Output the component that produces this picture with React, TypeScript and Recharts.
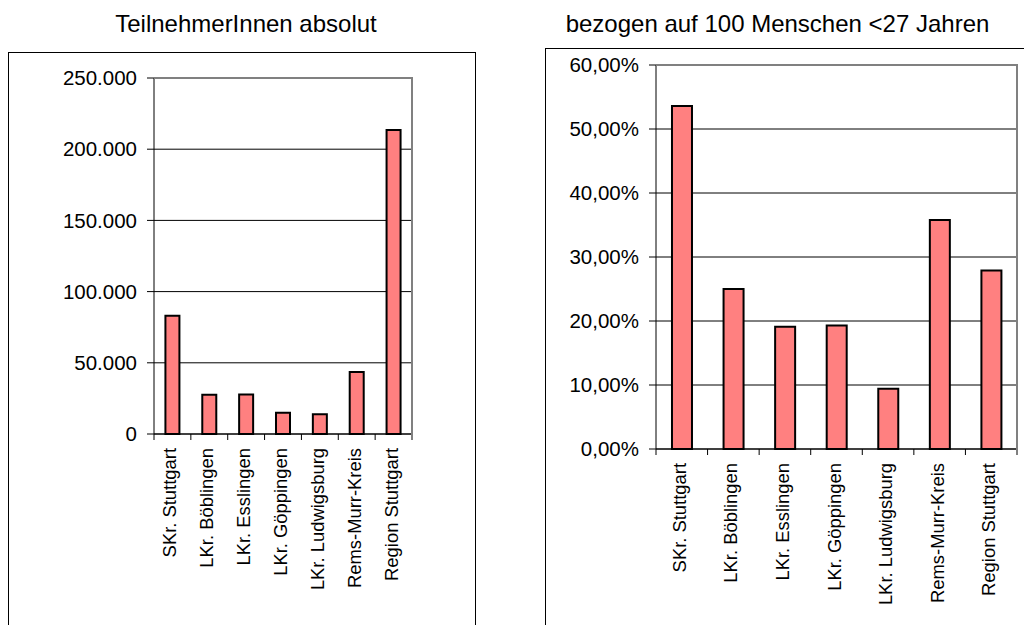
import { BarChart, Bar, XAxis, YAxis, CartesianGrid } from 'recharts';

const categories = [
  'SKr. Stuttgart',
  'LKr. Böblingen',
  'LKr. Esslingen',
  'LKr. Göppingen',
  'LKr. Ludwigsburg',
  'Rems-Murr-Kreis',
  'Region Stuttgart',
];
const participants = [83000, 27600, 27800, 14900, 13800, 43500, 213500];
const perHundredYoung = [53.6, 25.0, 19.1, 19.3, 9.4, 35.8, 27.9];
const participantTicks = [0, 50000, 100000, 150000, 200000, 250000];
const percentTicks = [0, 10, 20, 30, 40, 50, 60];

const FONT = '"Liberation Sans", Arial, sans-serif';
const HEIGHT = 625;
const X_HEIGHT = 150;
const TICK_SIZE = 6;
const TICK_MARGIN = 8;

const fmtThousands = (v: number) => String(v).replace(/\B(?=(\d{3})+(?!\d))/g, '.');
const fmtPercent = (v: number) => v.toFixed(2).replace('.', ',') + '%';

function CategoryTick(props: any) {
  const { x, y, payload, index, band, count } = props;
  const axisY = y - TICK_SIZE - TICK_MARGIN;
  const half = band / 2;
  return (
    <g>
      <line x1={x - half} y1={axisY} x2={x - half} y2={axisY + TICK_SIZE} stroke="#000" />
      {index === count - 1 && (
        <line x1={x + half} y1={axisY} x2={x + half} y2={axisY + TICK_SIZE} stroke="#000" />
      )}
      <text
        x={x}
        y={y}
        dy="0.22em"
        transform={`rotate(-90, ${x}, ${y})`}
        textAnchor="end"
        fontSize={18.4}
        fontFamily={FONT}
        fill="#000"
      >
        {payload.value}
      </text>
    </g>
  );
}

interface PanelProps {
  values: number[];
  ticks: number[];
  format: (v: number) => string;
  width: number;
  margin: { top: number; right: number; bottom: number; left: number };
  yWidth: number;
}

function Panel({ values, ticks, format, width, margin, yWidth }: PanelProps) {
  const data = categories.map((name, i) => ({ name, value: values[i] }));
  const plotLeft = margin.left + yWidth;
  const plotWidth = width - plotLeft - margin.right;
  const plotHeight = HEIGHT - margin.top - margin.bottom - X_HEIGHT;
  const band = plotWidth / categories.length;
  return (
    <div style={{ position: 'relative', width, height: HEIGHT }}>
      <BarChart width={width} height={HEIGHT} data={data} margin={margin} barCategoryGap="31%">
        <CartesianGrid horizontal vertical={false} stroke="#000" strokeWidth={1} />
        <Bar dataKey="value" fill="#FF8080" stroke="#000" strokeWidth={2} isAnimationActive={false} />
        <XAxis
          dataKey="name"
          interval={0}
          height={X_HEIGHT}
          axisLine={{ stroke: '#000' }}
          tickLine={false}
          tickSize={TICK_SIZE}
          tickMargin={TICK_MARGIN}
          tick={<CategoryTick band={band} count={categories.length} />}
        />
        <YAxis
          domain={[0, ticks[ticks.length - 1]]}
          ticks={ticks}
          interval={0}
          width={yWidth}
          tickFormatter={format}
          tickSize={7}
          tickMargin={10}
          axisLine={{ stroke: '#000' }}
          tickLine={{ stroke: '#000' }}
          tick={{ fill: '#000', fontSize: 20.5, fontFamily: FONT }}
        />
      </BarChart>
      {/* grey plot-area frame, top and right */}
      <div
        style={{
          position: 'absolute',
          left: plotLeft,
          top: margin.top - 1,
          width: plotWidth - 1,
          height: plotHeight,
          borderTop: '2px solid #808080',
          borderRight: '2px solid #808080',
          pointerEvents: 'none',
        }}
      />
    </div>
  );
}

const titleStyle: React.CSSProperties = {
  position: 'absolute',
  top: 12,
  fontFamily: FONT,
  fontSize: 24,
  lineHeight: '24px',
  textAlign: 'center',
  color: '#000',
};

export default function App() {
  return (
    <div style={{ position: 'absolute', left: 0, top: 0, width: 1024, height: 625, overflow: 'hidden', background: '#fff' }}>
      <div style={{ position: 'absolute', left: 8, top: 52, width: 466, height: 620, border: '1px solid #000' }} />
      <div style={{ position: 'absolute', left: 545, top: 48, width: 600, height: 620, border: '1px solid #000' }} />
      <div style={{ ...titleStyle, left: 0, width: 492 }}>TeilnehmerInnen absolut</div>
      <div style={{ ...titleStyle, left: 545, width: 465 }}>bezogen auf 100 Menschen &lt;27 Jahren</div>
      <div style={{ position: 'absolute', left: 0, top: 0 }}>
        <Panel
          values={participants}
          ticks={participantTicks}
          format={fmtThousands}
          width={480}
          margin={{ top: 78, right: 68, bottom: 41, left: 74 }}
          yWidth={80}
        />
      </div>
      <div style={{ position: 'absolute', left: 520, top: 0 }}>
        <Panel
          values={perHundredYoung}
          ticks={percentTicks}
          format={fmtPercent}
          width={504}
          margin={{ top: 65, right: 7, bottom: 26, left: 36 }}
          yWidth={100}
        />
      </div>
    </div>
  );
}
